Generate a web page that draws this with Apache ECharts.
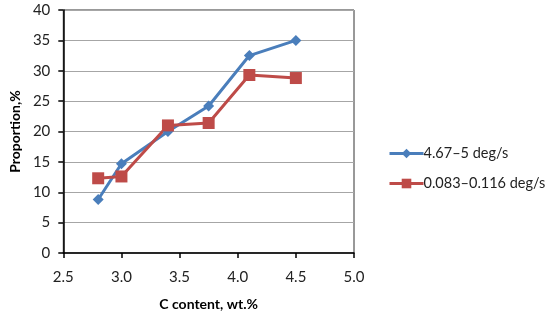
<!DOCTYPE html>
<html><head><meta charset="utf-8">
<script src="https://cdn.jsdelivr.net/npm/echarts@6/dist/echarts.min.js"></script>
<style>html,body{margin:0;padding:0;background:#fff}#c{width:550px;height:322px}</style>
</head><body><div id="c"></div>
<script>
var seriesNames = ['4.67\u20135 deg/s', '0.083\u20130.116 deg/s'];
var cContent = [2.8, 3.0, 3.4, 3.75, 4.1, 4.5];
var fastValues = [8.8, 14.7, 20.0, 24.2, 32.5, 35.0];
var slowValues = [12.3, 12.6, 21.0, 21.4, 29.3, 28.8];
var xTickLabels = ['2.5', '3.0', '3.5', '4.0', '4.5', '5.0'];

function pairs(xs, ys) { return xs.map(function (x, i) { return [x, ys[i]]; }); }
var font = 'Lato, "Open Sans", sans-serif';
var chart = echarts.init(document.getElementById('c'), null, {renderer: 'canvas'});
chart.setOption({
  animation: false,
  backgroundColor: '#fff',
  grid: {left: 62, right: 196, top: 10, bottom: 69, show: true, borderColor: '#333', borderWidth: 1},
  xAxis: {
    type: 'value', min: 2.5, max: 5.0, interval: 0.5,
    name: 'C content, wt.%', nameLocation: 'middle', nameGap: 44,
    nameTextStyle: {fontFamily: font, fontWeight: 'bold', fontSize: 14, color: '#000'},
    axisLine: {show: true, lineStyle: {color: '#000', width: 1.5}},
    axisTick: {show: true, length: 5, lineStyle: {color: '#000', width: 1.5}},
    axisLabel: {margin: 17, fontFamily: font, fontSize: 15, color: '#222',
      formatter: function (v) { var s = v.toFixed(1); return xTickLabels.indexOf(s) >= 0 ? s : ''; }},
    splitLine: {show: false}
  },
  yAxis: {
    type: 'value', min: 0, max: 40, interval: 5,
    name: 'Proportion,%', nameLocation: 'middle', nameGap: 41, nameRotate: 90,
    nameTextStyle: {fontFamily: font, fontWeight: 'bold', fontSize: 14, color: '#000'},
    axisLine: {show: true, lineStyle: {color: '#000', width: 1.5}},
    axisTick: {show: true, length: 5, lineStyle: {color: '#000', width: 1.5}},
    axisLabel: {margin: 13, fontFamily: font, fontSize: 15, color: '#222'},
    splitLine: {show: true, lineStyle: {color: '#a6a6a6', width: 1.2}}
  },
  legend: {
    orient: 'vertical', left: 388, top: 146, padding: 0, itemGap: 15, itemWidth: 34, itemHeight: 12,
    lineStyle: {width: 3},
    textStyle: {fontFamily: font, fontSize: 14.5, color: '#222', padding: [0, 0, 0, -5]},
    data: seriesNames
  },
  series: [
    {name: seriesNames[0], type: 'line', data: pairs(cContent, fastValues),
     symbol: 'diamond', symbolSize: 11, itemStyle: {color: '#4A7EBB'},
     lineStyle: {color: '#4A7EBB', width: 3}},
    {name: seriesNames[1], type: 'line', data: pairs(cContent, slowValues),
     symbol: 'rect', symbolSize: 12, itemStyle: {color: '#BE4B48'},
     lineStyle: {color: '#BE4B48', width: 3}}
  ]
});
</script></body></html>
